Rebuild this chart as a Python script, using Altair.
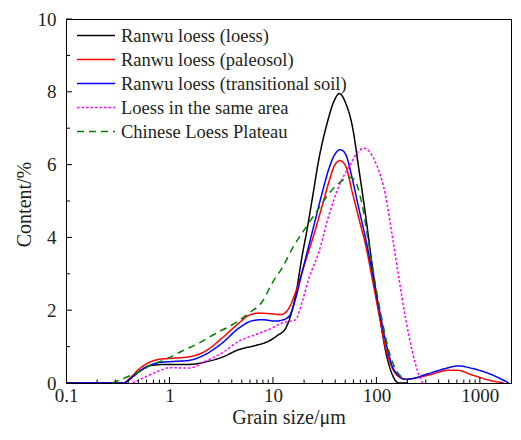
import altair as alt
import pandas as pd

# ---- data ----
series_names = [
    "Ranwu loess (loess)",
    "Ranwu loess (paleosol)",
    "Ranwu loess (transitional soil)",
    "Loess in the same area",
    "Chinese Loess Plateau",
]
series_colors = ["#000000", "#ff0000", "#0000ff", "#ff00ff", "#008000"]
series_dashes = [[1, 0], [1, 0], [1, 0], [2.5, 2], [7, 5]]

black_x = [0.1, 0.36, 0.45, 0.55, 0.63, 0.92, 1.54, 2.24, 3.24, 4.7, 6.8, 9.1, 11, 13.3, 16.6, 19.2, 21.2, 24, 27.8, 33.5, 39, 44, 50.3, 58.5, 67.7, 78.7, 91, 106, 122.7, 142, 165, 200]
black_y = [0, 0, 0.2, 0.38, 0.47, 0.51, 0.51, 0.58, 0.71, 0.92, 1.03, 1.15, 1.3, 1.51, 2.42, 3.51, 4.16, 5.06, 6.15, 7.15, 7.75, 7.95, 7.7, 7.06, 5.88, 4.6, 3.24, 1.97, 0.88, 0.24, 0, 0]

red_x = [0.1, 0.36, 0.42, 0.507, 0.63, 0.79, 1.06, 1.54, 2.24, 3.24, 4.7, 5.86, 7.3, 9.8, 12, 14.3, 16.6, 20.6, 25.9, 30, 34.7, 39, 44.3, 50.3, 58.5, 67.7, 78.7, 91, 106, 122.7, 142, 165, 191, 210, 321, 501, 603, 843, 1222, 1700]
red_y = [0, 0, 0.15, 0.38, 0.56, 0.65, 0.68, 0.72, 0.88, 1.24, 1.65, 1.86, 1.92, 1.9, 1.88, 2.06, 2.5, 3.34, 4.24, 4.88, 5.52, 5.95, 6.11, 5.97, 5.24, 4.52, 3.79, 2.88, 1.88, 0.97, 0.42, 0.17, 0.1, 0.11, 0.22, 0.35, 0.35, 0.22, 0.08, 0]

blue_x = [0.1, 0.36, 0.42, 0.507, 0.63, 0.79, 1.06, 1.54, 2.24, 3.24, 4.7, 6.3, 7.9, 10.6, 12, 14.3, 16.6, 19.2, 22.3, 25.9, 30, 34.7, 40, 45, 50.3, 58.5, 67.7, 78.7, 91, 106, 122.7, 142, 165, 191, 210, 321, 466, 627, 843, 1222, 1905]
blue_y = [0, 0, 0.12, 0.31, 0.47, 0.56, 0.59, 0.62, 0.79, 1.1, 1.51, 1.71, 1.74, 1.7, 1.72, 1.83, 2.33, 3.06, 3.79, 4.52, 5.24, 5.88, 6.3, 6.41, 6.29, 5.61, 4.79, 3.97, 3.06, 2.06, 1.15, 0.47, 0.2, 0.1, 0.11, 0.26, 0.4, 0.47, 0.4, 0.26, 0]

magenta_x = [0.44, 0.59, 0.79, 1.0, 1.54, 2.24, 3.24, 4.7, 6.8, 9.8, 12.3, 16.6, 19.2, 22.3, 27.8, 34.7, 44, 54.6, 65.5, 76, 98, 122.7, 142, 165, 191, 222, 256, 280]
magenta_y = [0, 0.17, 0.33, 0.42, 0.41, 0.6, 0.83, 1.15, 1.33, 1.51, 1.65, 1.74, 2.24, 2.88, 3.6, 4.6, 5.45, 5.95, 6.33, 6.45, 6.06, 5.15, 4.06, 2.88, 1.79, 0.88, 0.24, 0]

green_x = [0.28, 0.377, 0.507, 0.68, 0.92, 1.33, 1.93, 2.79, 4.04, 5.86, 7.9, 9.8, 12.5, 15.4, 20, 27.8, 34.7, 46.8, 55, 60.7, 73, 84.7, 98, 114, 132, 153, 178, 200]
green_y = [0, 0.15, 0.31, 0.51, 0.65, 0.88, 1.1, 1.36, 1.6, 1.92, 2.24, 2.74, 3.2, 3.7, 4.2, 4.8, 5.2, 5.56, 5.65, 5.6, 4.88, 3.79, 2.7, 1.7, 0.88, 0.38, 0.15, 0.08]

x_major = [0.1, 1, 10, 100, 1000]
x_minor = [0.2, 0.3, 0.4, 0.5, 0.6, 0.7, 0.8, 0.9,
           2, 3, 4, 5, 6, 7, 8, 9,
           20, 30, 40, 50, 60, 70, 80, 90,
           200, 300, 400, 500, 600, 700, 800, 900]
y_major = [0, 2, 4, 6, 8, 10]
y_minor = [1, 3, 5, 7, 9]

# ---- build tables ----
xs = [black_x, red_x, blue_x, magenta_x, green_x]
ys = [black_y, red_y, blue_y, magenta_y, green_y]
rows = []
for name, sx, sy in zip(series_names, xs, ys):
    for i, (a, b) in enumerate(zip(sx, sy)):
        rows.append({"series": name, "size": a, "content": b, "order": i})
df = pd.DataFrame(rows)

W, H = 445, 364
FONT = "Liberation Serif"
TXT = "#231f20"
xscale = alt.Scale(type="log", domain=[0.1, 2000], nice=False)
yscale = alt.Scale(domain=[0, 10], nice=False, zero=False)

leg = dict(title=None, orient="none", legendX=19.5, legendY=6,
           symbolType="M-2,0H2", symbolSize=361, symbolStrokeWidth=1.5,
           symbolFillColor="transparent",
           labelFont=FONT, labelFontSize=18.5, labelColor=TXT,
           rowPadding=4, padding=0, labelOffset=14.5, labelLimit=400)

lines = alt.Chart(df).mark_line(interpolate="monotone", strokeWidth=1.5, clip=True).encode(
    x=alt.X("size:Q", scale=xscale,
            axis=alt.Axis(title="Grain size/μm", values=x_major, format="~g",
                          ticks=False, grid=False, labelFlush=False, labelBound=False,
                          labelPadding=3, titlePadding=2)),
    y=alt.Y("content:Q", scale=yscale,
            axis=alt.Axis(title="Content/%", values=y_major, ticks=False, grid=False,
                          labelPadding=10, titleX=-42, titleY=185, titleAngle=270,
                          titleAlign="center", titleBaseline="middle")),
    color=alt.Color("series:N", sort=series_names,
                    scale=alt.Scale(domain=series_names, range=series_colors),
                    legend=alt.Legend(**leg)),
    strokeDash=alt.StrokeDash("series:N", sort=series_names,
                              scale=alt.Scale(domain=series_names, range=series_dashes),
                              legend=alt.Legend(**leg)),
    order="order:Q",
)

xmaj = alt.Chart(pd.DataFrame({"v": x_major[1:]})).mark_rule(color="black", strokeWidth=1).encode(
    x=alt.X("v:Q", scale=xscale), y=alt.value(H), y2=alt.value(H - 6))
xmin = alt.Chart(pd.DataFrame({"v": x_minor})).mark_rule(color="black", strokeWidth=1).encode(
    x=alt.X("v:Q", scale=xscale), y=alt.value(H), y2=alt.value(H - 3.5))
ymaj = alt.Chart(pd.DataFrame({"v": y_major})).mark_rule(color="black", strokeWidth=1).encode(
    y=alt.Y("v:Q", scale=yscale), x=alt.value(0), x2=alt.value(6))
ymin = alt.Chart(pd.DataFrame({"v": y_minor})).mark_rule(color="black", strokeWidth=1).encode(
    y=alt.Y("v:Q", scale=yscale), x=alt.value(0), x2=alt.value(4))

chart = alt.layer(lines, xmaj, xmin, ymaj, ymin).properties(
    width=W, height=H,
    autosize=alt.AutoSizeParams(type="none"),
    padding={"left": 58, "top": 11, "right": 2, "bottom": 44},
).configure_view(stroke="black", strokeWidth=1).configure_axis(
    labelFont=FONT, titleFont=FONT, labelFontSize=19, titleFontSize=20,
    labelColor=TXT, titleColor=TXT, titleFontWeight="normal",
    domainColor="black", domainWidth=1,
)

chart.save("out.html", embed_options={"renderer": "svg", "actions": False})
